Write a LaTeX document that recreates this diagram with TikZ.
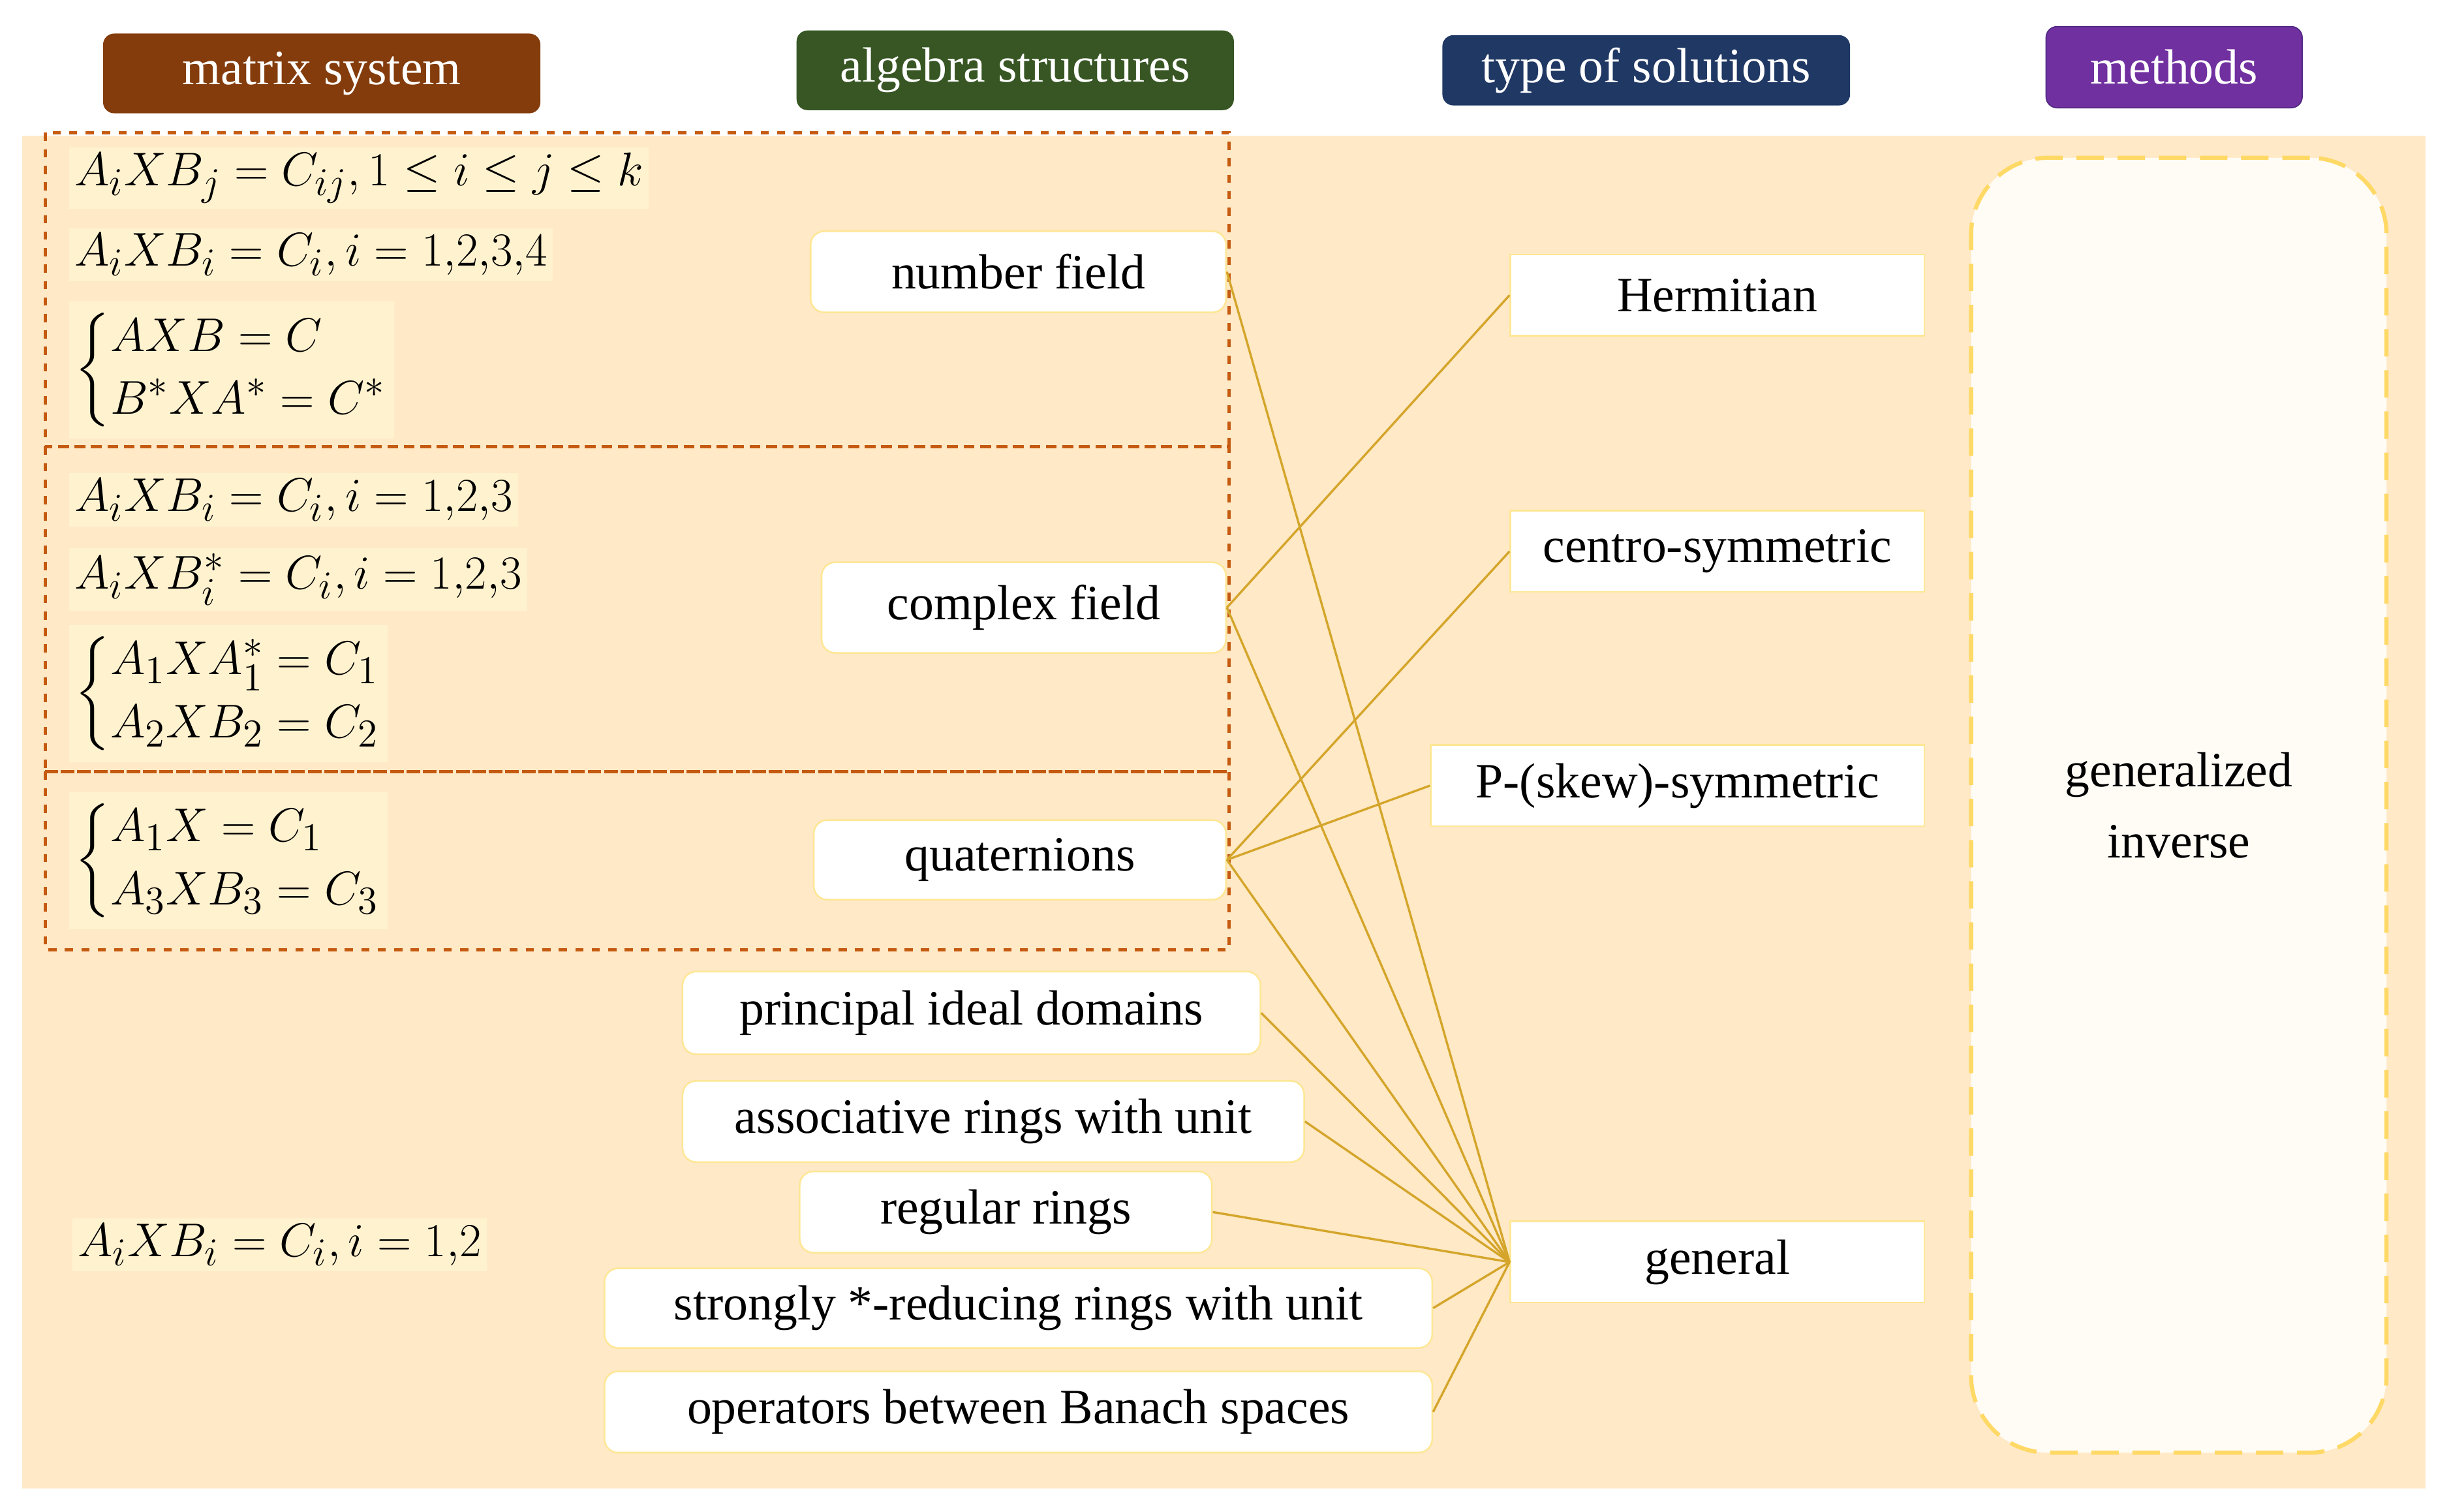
\documentclass[tikz,border=0pt]{standalone}
\usepackage{amsmath}
\usepackage{fontspec}
\setmainfont{Liberation Serif}
\newcommand{\mycases}[2]{\left\{\renewcommand{\arraystretch}{1.0}\begin{array}{@{}l@{}}#1\\ #2\end{array}\right.}
\begin{document}
\begin{tikzpicture}[x=0.02cm,y=-0.02cm,
  hdr/.style={rounded corners=4pt,text=white,font=\fontsize{18}{22}\selectfont,inner sep=0pt},
  alg/.style={draw=yellow!60!orange!40,fill=white,rounded corners=5pt,line width=0.6pt,font=\fontsize{18}{22}\selectfont,inner sep=0pt},
  typ/.style={draw=yellow!60!orange!40,fill=white,line width=0.6pt,font=\fontsize{18}{22}\selectfont,inner sep=0pt},
  eq/.style={fill=eqbg,anchor=west,inner sep=2pt,font=\fontsize{19}{23}\selectfont},
  grp/.style={draw=grpc,dashed,line width=1.2pt},
  con/.style={draw=conc,line width=0.8pt}]
\definecolor{bg}{HTML}{FFE9C6}
\definecolor{eqbg}{HTML}{FFF2CF}
\definecolor{grpc}{HTML}{C55A11}
\definecolor{conc}{HTML}{D4A52A}
\useasboundingbox (0,0) rectangle (1568,968);
\fill[bg] (14,87) rectangle (1553,953);
% headers
\node[hdr,fill={rgb,255:red,132;green,60;blue,12},minimum width=280*0.02cm,minimum height=51*0.02cm] (h1) at (206,47) {matrix system};
\node[hdr,fill={rgb,255:red,55;green,86;blue,35},minimum width=280*0.02cm,minimum height=51*0.02cm] (h2) at (650,45) {algebra structures};
\node[hdr,fill={rgb,255:red,32;green,56;blue,100},minimum width=261*0.02cm,minimum height=45*0.02cm] (h3) at (1054,45) {type of solutions};
\node[hdr,fill={rgb,255:red,112;green,48;blue,160},draw={rgb,255:red,80;green,40;blue,130},minimum width=164*0.02cm,minimum height=52*0.02cm] (h4) at (1392,43) {methods};
% groups
\draw[grp] (29,85) rectangle (787,286);
\draw[grp] (29,286) rectangle (787,494);
\draw[grp] (29,494) rectangle (787,608);
% equations
\node[eq] (e1) at (44,114) {$A_iXB_j=C_{ij},1\le i\le j\le k$};
\node[eq] (e2) at (44,163) {$A_iXB_i=C_i,i=1{,}2{,}3{,}4$};
\node[eq] (e3) at (44,237) {$\mycases{AXB=C}{B^*XA^*=C^*}$};
\node[eq] (e4) at (44,320) {$A_iXB_i=C_i,i=1{,}2{,}3$};
\node[eq] (e5) at (44,371) {$A_iXB_i^*=C_i,i=1{,}2{,}3$};
\node[eq] (e6) at (44,444) {$\mycases{A_1XA_1^*=C_1}{A_2XB_2=C_2}$};
\node[eq] (e7) at (44,551) {$\mycases{A_1X=C_1}{A_3XB_3=C_3}$};
\node[eq] (e8) at (46,797) {$A_iXB_i=C_i,i=1{,}2$};
% algebra structures
\node[alg,minimum width=266*0.02cm,minimum height=52*0.02cm] (nf) at (652,174) {number field};
\node[alg,minimum width=259*0.02cm,minimum height=58*0.02cm] (cf) at (655.5,389) {complex field};
\node[alg,minimum width=264*0.02cm,minimum height=51*0.02cm] (qu) at (653,550.5) {quaternions};
\node[alg,minimum width=370*0.02cm,minimum height=53*0.02cm] (pid) at (622,648.5) {principal ideal domains};
\node[alg,minimum width=398*0.02cm,minimum height=52*0.02cm] (ar) at (636,718) {associative rings with unit};
\node[alg,minimum width=264*0.02cm,minimum height=52*0.02cm] (rr) at (644,776) {regular rings};
\node[alg,minimum width=530*0.02cm,minimum height=51*0.02cm] (sr) at (652,837.5) {strongly *-reducing rings with unit};
\node[alg,minimum width=530*0.02cm,minimum height=52*0.02cm] (ob) at (652,904) {operators between Banach spaces};
% types
\node[typ,minimum width=265*0.02cm,minimum height=52*0.02cm] (her) at (1099.5,189) {Hermitian};
\node[typ,minimum width=265*0.02cm,minimum height=52*0.02cm] (cs) at (1099.5,353) {centro-symmetric};
\node[typ,minimum width=316*0.02cm,minimum height=52*0.02cm] (ps) at (1074,503) {P-(skew)-symmetric};
\node[typ,minimum width=265*0.02cm,minimum height=52*0.02cm] (gen) at (1099.5,808) {general};
% methods
\node[draw={rgb,255:red,255;green,217;blue,102},dashed,dash pattern=on 10pt off 5pt,line width=1.5pt,fill={rgb,255:red,255;green,252;blue,246},rounded corners=28pt,minimum width=266*0.02cm,minimum height=829*0.02cm,align=center,font=\fontsize{18}{26}\selectfont] (gi) at (1395,515.5) {generalized\\inverse};
% connectors
\draw[con] (nf.east) -- (gen.west);
\draw[con] (cf.east) -- (her.west);
\draw[con] (cf.east) -- (gen.west);
\draw[con] (qu.east) -- (cs.west);
\draw[con] (qu.east) -- (ps.west);
\draw[con] (qu.east) -- (gen.west);
\draw[con] (pid.east) -- (gen.west);
\draw[con] (ar.east) -- (gen.west);
\draw[con] (rr.east) -- (gen.west);
\draw[con] (sr.east) -- (gen.west);
\draw[con] (ob.east) -- (gen.west);
\end{tikzpicture}
\end{document}
